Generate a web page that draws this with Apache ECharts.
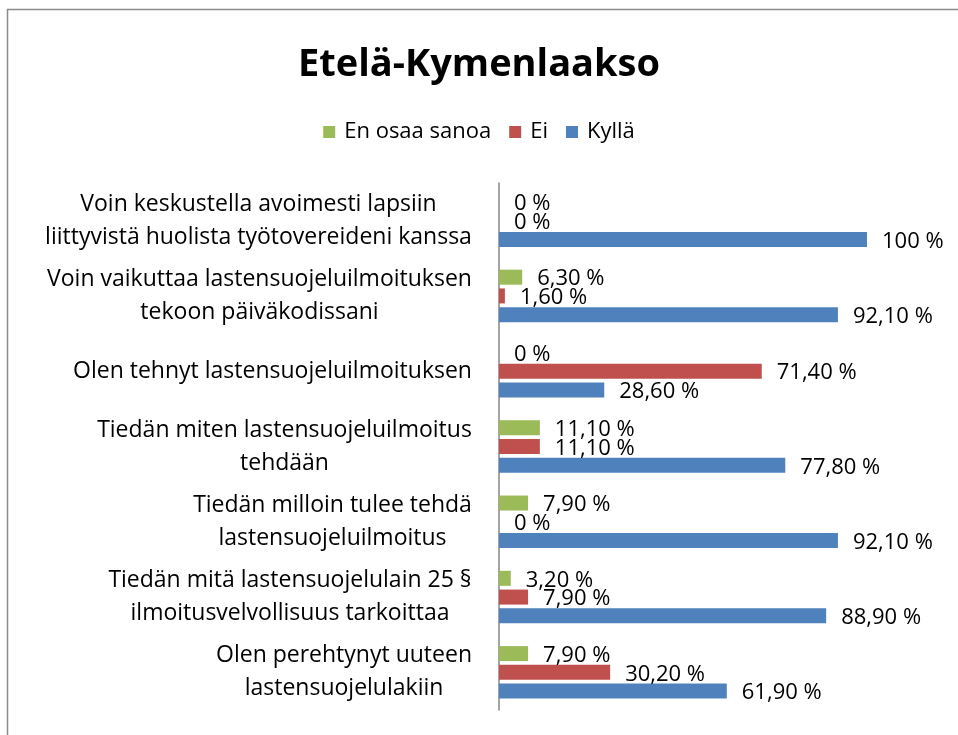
<!DOCTYPE html>
<html>
<head>
<meta charset="utf-8">
<script src="https://cdn.jsdelivr.net/npm/echarts@6/dist/echarts.min.js"></script>
<style>
  html, body { margin: 0; padding: 0; background: #fff; }
  #chart { width: 958px; height: 735px; }
</style>
</head>
<body>
<div id="chart"></div>
<script>
// kysymykset ylhäältä alas
const categories = [
  'Voin keskustella avoimesti lapsiin\nliittyvistä huolista työtovereideni kanssa',
  'Voin vaikuttaa lastensuojeluilmoituksen\ntekoon päiväkodissani',
  'Olen tehnyt lastensuojeluilmoituksen',
  'Tiedän miten lastensuojeluilmoitus\ntehdään',
  'Tiedän milloin tulee tehdä\nlastensuojeluilmoitus',
  'Tiedän mitä lastensuojelulain 25 §\nilmoitusvelvollisuus tarkoittaa',
  'Olen perehtynyt uuteen\nlastensuojelulakiin'
]
const enOsaaSanoa = [0, 6.3, 0, 11.1, 7.9, 3.2, 7.9]
const ei = [0, 1.6, 71.4, 11.1, 0, 7.9, 30.2]
const kylla = [100, 92.1, 28.6, 77.8, 92.1, 88.9, 61.9]

const font = 'Open Sans'
const catSize = 23

const fmt = (p) => {
  const v = p.value
  if (v === 0 || v === 100) return v + ' %'
  return v.toFixed(2).replace('.', ',') + ' %'
}

// rivit keskitetään, lohko tasataan oikealle akselia vasten
const ctx = document.createElement('canvas').getContext('2d')
ctx.font = catSize + 'px "' + font + '"'
const rich = {}
categories.forEach((c, i) => {
  const w = Math.max(...c.split('\n').map(s => ctx.measureText(s).width))
  rich['c' + i] = { width: Math.ceil(w) + 2, align: 'center', fontFamily: font, fontSize: catSize, lineHeight: 33, color: '#000' }
})

const mkSeries = (name, data, color) => ({
  name: name,
  type: 'bar',
  data: data,
  barWidth: 15,
  barGap: '25%',
  itemStyle: { color: color },
  label: {
    show: true,
    position: 'right',
    distance: 15,
    offset: [0, 2],
    color: '#000',
    fontFamily: font,
    fontSize: 22,
    formatter: fmt
  }
})

const myChart = echarts.init(document.getElementById('chart'))
const option = {
  animation: false,
  graphic: [{
    type: 'rect',
    left: 5, top: 7,
    shape: { width: 1000, height: 800 },
    style: { fill: 'none', stroke: '#8c8c8c', lineWidth: 1.5 }
  }],
  title: {
    text: 'Etelä-Kymenlaakso',
    left: 'center',
    top: 41,
    textStyle: { fontFamily: font, fontSize: 38, fontWeight: 'bold', color: '#000' }
  },
  legend: {
    top: 116,
    left: 'center',
    itemWidth: 12,
    itemHeight: 12,
    itemGap: 18,
    icon: 'rect',
    textStyle: { fontFamily: font, fontSize: 22, color: '#000', padding: [0, 0, 0, 4] },
    data: ['En osaa sanoa', 'Ei', 'Kyllä']
  },
  grid: { left: 499, right: 91, top: 183, bottom: 25, containLabel: false },
  xAxis: {
    type: 'value',
    min: 0,
    max: 100,
    show: false
  },
  yAxis: {
    type: 'category',
    inverse: true,
    data: categories,
    axisLine: { lineStyle: { color: '#868686', width: 1.5 } },
    axisTick: { show: false },
    axisLabel: {
      interval: 0,
      margin: 26,
      align: 'right',
      formatter: (v, i) => v.split('\n').map(s => '{c' + i + '|' + s + '}').join('\n'),
      rich: rich
    }
  },
  series: [
    mkSeries('En osaa sanoa', enOsaaSanoa, '#9BBB59'),
    mkSeries('Ei', ei, '#C0504D'),
    mkSeries('Kyllä', kylla, '#4F81BD')
  ]
}
option && myChart.setOption(option)
</script>
</body>
</html>
